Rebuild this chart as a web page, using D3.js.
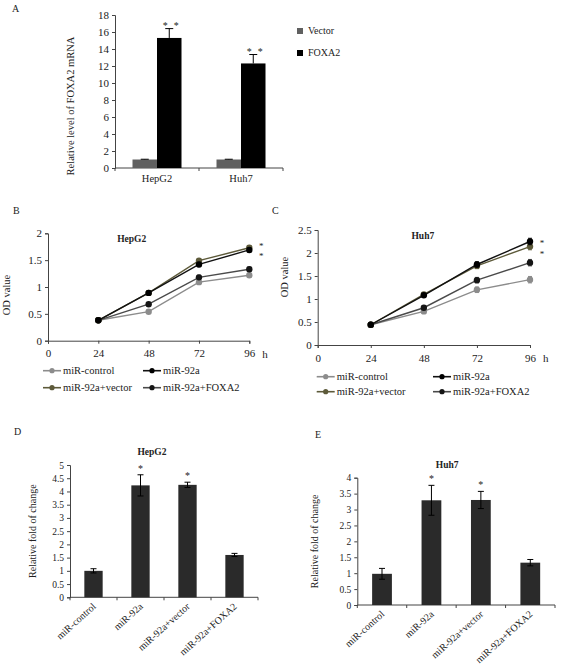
<!DOCTYPE html>
<html><head><meta charset="utf-8">
<script src="https://cdn.jsdelivr.net/npm/d3@7"></script>
<style>
body{margin:0;background:#fff;}
svg{display:block;font-family:"Liberation Serif","Times New Roman",serif;}
</style></head>
<body>
<svg id="c" width="567" height="665"></svg>
<script>
// ---------- DATA ----------
const cellLines = ["HepG2", "Huh7"];
const seriesA = ["Vector", "FOXA2"];
const vectorA = [1.0, 1.0];
const vectorErrA = [0.03, 0.03];
const foxa2A = [15.3, 12.3];
const foxa2ErrA = [1.1, 1.05];
const ticksA = [0, 2, 4, 6, 8, 10, 12, 14, 16, 18];

const hours = [24, 48, 72, 96];
const hourTicks = [0, 24, 48, 72, 96];
const groupNames = ["miR-control", "miR-92a", "miR-92a+vector", "miR-92a+FOXA2"];

const ctrlB = [0.38, 0.54, 1.09, 1.22];
const mir92aB = [0.38, 0.89, 1.42, 1.69];
const vectorB = [0.38, 0.89, 1.49, 1.73];
const foxa2B = [0.38, 0.68, 1.18, 1.33];
const errB = [0.02, 0.03, 0.04, 0.04];
const ticksB = [0, 0.5, 1, 1.5, 2];

const ctrlC = [0.44, 0.73, 1.20, 1.42];
const mir92aC = [0.44, 1.08, 1.75, 2.25];
const vectorC = [0.44, 1.10, 1.72, 2.14];
const foxa2C = [0.44, 0.81, 1.41, 1.79];
const errC = [0.02, 0.04, 0.06, 0.07];
const ticksC = [0, 0.5, 1, 1.5, 2, 2.5];

const foldD = [1.0, 4.23, 4.25, 1.6];
const foldErrD = [0.08, 0.4, 0.1, 0.06];
const ticksD = [0, 0.5, 1, 1.5, 2, 2.5, 3, 3.5, 4, 4.5, 5];

const foldE = [0.98, 3.29, 3.3, 1.33];
const foldErrE = [0.17, 0.47, 0.27, 0.1];
const ticksE = [0, 0.5, 1, 1.5, 2, 2.5, 3, 3.5, 4];

// ---------- HELPERS ----------
const svg = d3.select("#c");
const AX = "#444";
function styleAxis(g, fs) {
  g.selectAll("path.domain").attr("stroke", AX);
  g.selectAll(".tick line").attr("stroke", AX);
  g.selectAll("text").attr("font-family", '"Liberation Serif",serif').attr("font-size", fs).attr("fill", "#222");
}
function label(x, y, t, opt = {}) {
  const e = svg.append("text").attr("x", x).attr("y", y).text(t)
    .attr("font-size", opt.fs || 11).attr("fill", opt.fill || "#222")
    .attr("text-anchor", opt.anchor || "start");
  if (opt.bold) e.attr("font-weight", "bold");
  if (opt.rot) e.attr("transform", `rotate(${opt.rot},${x},${y})`);
  return e;
}

// ---------- PANEL A ----------
label(12, 12, "A", { fs: 10 });
{
  const y = d3.scaleLinear().domain([0, 18]).range([168, 15]);
  const x = d3.scaleBand().domain(cellLines).range([115, 283]);
  const xs = d3.scaleBand().domain(seriesA).range([17.5, 66.5]);
  const colors = { Vector: "#606060", FOXA2: "#000" };
  const vals = { Vector: vectorA, FOXA2: foxa2A };
  const errs = { Vector: vectorErrA, FOXA2: foxa2ErrA };
  const ga = svg.append("g").attr("transform", "translate(115,0)")
    .call(d3.axisLeft(y).tickValues(ticksA).tickSize(3).tickFormat(d3.format("d")));
  styleAxis(ga, 11);
  svg.append("line").attr("x1", 115).attr("x2", 283).attr("y1", 168).attr("y2", 168).attr("stroke", AX);
  [115, 199, 283].forEach(v => svg.append("line").attr("x1", v).attr("x2", v).attr("y1", 168).attr("y2", 171).attr("stroke", AX));
  cellLines.forEach((c, i) => {
    seriesA.forEach(s => {
      const v = vals[s][i], e = errs[s][i];
      const bx = x(c) + xs(s);
      svg.append("rect").attr("x", bx).attr("y", y(v)).attr("width", xs.bandwidth()).attr("height", y(0) - y(v)).attr("fill", colors[s]);
      const cx = bx + xs.bandwidth() / 2;
      svg.append("line").attr("x1", cx).attr("x2", cx).attr("y1", y(v)).attr("y2", y(v + e)).attr("stroke", "#000");
      svg.append("line").attr("x1", cx - 4).attr("x2", cx + 4).attr("y1", y(v + e)).attr("y2", y(v + e)).attr("stroke", "#000");
      if (s === "FOXA2") {
        label(cx - 4, y(v + e) + 0.5, "*", { fs: 10, anchor: "middle" });
        label(cx + 7, y(v + e) + 0.5, "*", { fs: 10, anchor: "middle" });
      }
    });
    label(x(c) + x.bandwidth() / 2, 182, c, { fs: 10.5, anchor: "middle" });
  });
  label(74, 106, "Relative level of FOXA2 mRNA", { fs: 10.5, anchor: "middle", rot: -90 });
  // legend
  seriesA.forEach((s, i) => {
    svg.append("rect").attr("x", 297).attr("y", 28 + i * 22).attr("width", 6).attr("height", 6).attr("fill", colors[s]);
    label(308, 34 + i * 22, s, { fs: 10 });
  });
}

// ---------- LINE PANELS ----------
const lineStyles = [
  { name: groupNames[0], line: "#8c8c8c", dot: "#8c8c8c" },
  { name: groupNames[1], line: "#111", dot: "#000" },
  { name: groupNames[2], line: "#5d5a3a", dot: "#5d5a3a" },
  { name: groupNames[3], line: "#4a4a4a", dot: "#151515" }
];
function linePanel(cfg) {
  const x = d3.scaleLinear().domain([0, 96]).range([cfg.x0, cfg.x1]);
  const y = d3.scaleLinear().domain([0, cfg.ymax]).range([cfg.y0, cfg.y1]);
  const gy = svg.append("g").attr("transform", `translate(${cfg.x0},0)`)
    .call(d3.axisLeft(y).tickValues(cfg.yticks).tickSize(3).tickFormat(d3.format("")));
  styleAxis(gy, 11);
  const gx = svg.append("g").attr("transform", `translate(0,${cfg.y0})`)
    .call(d3.axisBottom(x).tickValues(hourTicks).tickSize(3).tickPadding(6).tickFormat(d3.format("d")));
  styleAxis(gx, 11);
  label(cfg.x1 + 13, cfg.y0 + 17, "h", { fs: 11 });
  label((cfg.x0 + cfg.x1) / 2 + cfg.titleDx, cfg.y1 + 9, cfg.title, { fs: 9.5, bold: true, anchor: "middle" });
  label(cfg.ylabX, cfg.ylabY, "OD  value", { fs: 10.5, anchor: "middle", rot: -90 });
  const line = d3.line().x((d, i) => x(hours[i])).y(d => y(d));
  const order = [0, 3, 2, 1];
  order.forEach(k => {
    const vals = cfg.series[k], st = lineStyles[k];
    svg.append("path").attr("d", line(vals)).attr("fill", "none").attr("stroke", st.line).attr("stroke-width", 1.4);
    vals.forEach((v, i) => {
      const e = cfg.err[i], cx = x(hours[i]);
      svg.append("line").attr("x1", cx).attr("x2", cx).attr("y1", y(v - e)).attr("y2", y(v + e)).attr("stroke", st.line);
      svg.append("line").attr("x1", cx - 2).attr("x2", cx + 2).attr("y1", y(v + e)).attr("y2", y(v + e)).attr("stroke", st.line);
      svg.append("line").attr("x1", cx - 2).attr("x2", cx + 2).attr("y1", y(v - e)).attr("y2", y(v - e)).attr("stroke", st.line);
      svg.append("circle").attr("cx", cx).attr("cy", y(v)).attr("r", 3.2).attr("fill", st.dot);
    });
  });
  cfg.stars.forEach(sy => label(cfg.x1 + 12, sy, "*", { fs: 9, anchor: "middle" }));
  // legend
  lineStyles.forEach((st, k) => {
    const lx = cfg.legX[k % 2], ly = cfg.legY[Math.floor(k / 2)];
    svg.append("line").attr("x1", lx).attr("x2", lx + 18).attr("y1", ly).attr("y2", ly).attr("stroke", st.line).attr("stroke-width", 1.6);
    svg.append("circle").attr("cx", lx + 9).attr("cy", ly).attr("r", 2.6).attr("fill", st.dot);
    label(lx + 20, ly + 3.5, st.name, { fs: 10.5 });
  });
}
label(13, 214, "B", { fs: 10 });
linePanel({
  x0: 48, x1: 249.3, y0: 340.7, y1: 233.3, ymax: 2, yticks: ticksB,
  series: [ctrlB, mir92aB, vectorB, foxa2B], err: errB,
  title: "HepG2", titleDx: -17, ylabX: 10, ylabY: 295,
  stars: [249, 259], legX: [43, 143], legY: [370.7, 387.7]
});
label(272, 214, "C", { fs: 10 });
linePanel({
  x0: 317.7, x1: 530, y0: 345, y1: 230, ymax: 2.5, yticks: ticksC,
  series: [ctrlC, mir92aC, vectorC, foxa2C], err: errC,
  title: "Huh7", titleDx: -1, ylabX: 288, ylabY: 277,
  stars: [246, 257], legX: [316.7, 433], legY: [376.7, 391.7]
});

// ---------- BAR PANELS D/E ----------
function barPanel(cfg) {
  const y = d3.scaleLinear().domain([0, cfg.ymax]).range([cfg.y0, cfg.y1]);
  const x = d3.scaleBand().domain(groupNames).range([cfg.x0, cfg.x1]).paddingInner(cfg.pad).paddingOuter(cfg.pad / 2);
  const gy = svg.append("g").attr("transform", `translate(${cfg.x0},0)`)
    .call(d3.axisLeft(y).tickValues(cfg.yticks).tickSize(3).tickFormat(d3.format("")));
  styleAxis(gy, 9.5);
  svg.append("line").attr("x1", cfg.x0).attr("x2", cfg.x1).attr("y1", cfg.y0).attr("y2", cfg.y0).attr("stroke", AX);
  const bw = (cfg.x1 - cfg.x0) / groupNames.length;
  d3.range(groupNames.length + 1).forEach(i => {
    const vx = cfg.x0 + i * bw;
    svg.append("line").attr("x1", vx).attr("x2", vx).attr("y1", cfg.y0).attr("y2", cfg.y0 + 3).attr("stroke", AX);
  });
  groupNames.forEach((g, i) => {
    const v = cfg.vals[i], e = cfg.errs[i];
    svg.append("rect").attr("x", x(g)).attr("y", y(v)).attr("width", x.bandwidth()).attr("height", cfg.y0 - y(v)).attr("fill", "#2a2a2a");
    const cx = x(g) + x.bandwidth() / 2;
    svg.append("line").attr("x1", cx).attr("x2", cx).attr("y1", y(v - e)).attr("y2", y(v + e)).attr("stroke", "#000");
    [v - e, v + e].forEach(t => svg.append("line").attr("x1", cx - 3).attr("x2", cx + 3).attr("y1", y(t)).attr("y2", y(t)).attr("stroke", "#000"));
    if (cfg.stars[i]) label(cx, y(v + e) - 3, "*", { fs: 10, anchor: "middle" });
    label(cx + 3, cfg.y0 + 10, g, { fs: 10, anchor: "end", rot: -42 });
  });
  label((cfg.x0 + cfg.x1) / 2 + cfg.titleDx, cfg.y1 - 10, cfg.title, { fs: 9.5, bold: true, anchor: "middle" });
  label(cfg.ylabX, (cfg.y0 + cfg.y1) / 2, "Relative fold of change", { fs: 10, anchor: "middle", rot: -90 });
}
label(14, 435, "D", { fs: 10 });
barPanel({
  x0: 70, x1: 258, y0: 597.3, y1: 465, ymax: 5, yticks: ticksD, pad: 0.61,
  vals: foldD, errs: foldErrD, stars: [0, 1, 1, 0],
  title: "HepG2", titleDx: -12, ylabX: 36
});
label(315, 438, "E", { fs: 10 });
barPanel({
  x0: 357.3, x1: 555, y0: 605, y1: 477.7, ymax: 4, yticks: ticksE, pad: 0.6,
  vals: foldE, errs: foldErrE, stars: [0, 1, 1, 0],
  title: "Huh7", titleDx: -9, ylabX: 318
});
</script>
</body></html>
